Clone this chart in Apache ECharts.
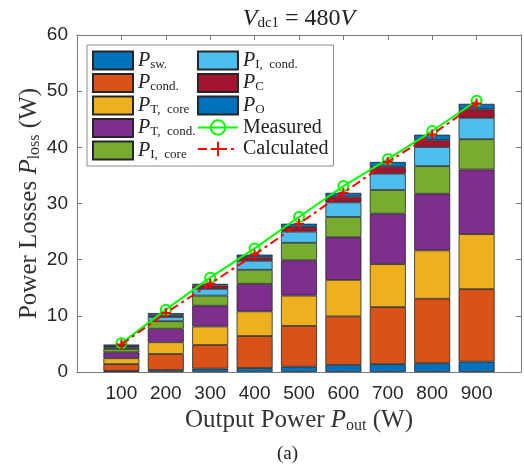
<!DOCTYPE html>
<html>
<head>
<meta charset="utf-8">
<script src="https://cdn.jsdelivr.net/npm/echarts@6/dist/echarts.min.js"></script>
<style>
  html, body { margin: 0; padding: 0; background: #fff; }
  #chart { width: 524px; height: 464px; }
</style>
</head>
<body>
<div id="chart"></div>
<script>
const outputPower = [100, 200, 300, 400, 500, 600, 700, 800, 900];
const pSw = [0.2, 0.36, 0.6, 0.7, 0.95, 1.25, 1.4, 1.55, 1.85];
const pCond = [1.2, 2.84, 4.2, 5.7, 7.25, 8.65, 10.15, 11.5, 12.9];
const pTCore = [1.05, 2.1, 3.3, 4.4, 5.4, 6.5, 7.65, 8.6, 9.8];
const pTCond = [1.05, 2.4, 3.7, 4.9, 6.3, 7.6, 9.0, 10.1, 11.5];
const pICore = [0.6, 1.35, 1.8, 2.5, 3.1, 3.6, 4.2, 4.9, 5.4];
const pICond = [0.3, 0.75, 1.2, 1.6, 2.0, 2.6, 2.9, 3.4, 3.8];
const pC = [0.2, 0.3, 0.6, 0.6, 0.8, 1.0, 1.2, 1.2, 1.5];
const pO = [0.3, 0.4, 0.3, 0.5, 0.6, 0.7, 0.9, 1.0, 1.0];
const measured = [5.1, 11.1, 16.8, 22.0, 27.6, 33.1, 37.9, 42.9, 48.3];
const calculated = [4.9, 10.5, 15.7, 20.9, 26.4, 31.9, 37.4, 42.3, 47.8];
const yTicks = [0, 10, 20, 30, 40, 50, 60];

const serif = "'Liberation Serif', 'DejaVu Serif', serif";
const sans = "'Liberation Sans', Arial, sans-serif";
const axisColor = "#7a7a7a";

// axis runs 0..1000 so the 100..900 columns sit where they do in the figure
const xCats = ["0"].concat(outputPower.map(String), ["1000"]);
const pad = (values) => ["-"].concat(values, ["-"]);

const rich = {
  it: { fontFamily: serif, fontStyle: "italic", fontSize: 20, color: "#222", lineHeight: 18 },
  sub: { fontFamily: serif, fontSize: 13, color: "#222", lineHeight: 12, padding: [8, 0, 0, 0] },
  txt: { fontFamily: serif, fontSize: 20, color: "#222", lineHeight: 18 },
};

const barDefs = [
  { name: "Psw", label: "{it|P}{sub|sw.}", color: "#0072BD", data: pSw },
  { name: "Pcond", label: "{it|P}{sub|cond.}", color: "#D95319", data: pCond },
  { name: "PTcore", label: "{it|P}{sub|T,  core}", color: "#EDB120", data: pTCore },
  { name: "PTcond", label: "{it|P}{sub|T,  cond.}", color: "#7E2F8E", data: pTCond },
  { name: "PIcore", label: "{it|P}{sub|I,  core}", color: "#77AC30", data: pICore },
  { name: "PIcond", label: "{it|P}{sub|I,  cond.}", color: "#4DBEEE", data: pICond },
  { name: "PC", label: "{it|P}{sub|C}", color: "#A2142F", data: pC },
  { name: "PO", label: "{it|P}{sub|O}", color: "#0072BD", data: pO },
];
const legendLabels = Object.fromEntries(barDefs.map((d) => [d.name, d.label]));
legendLabels.Measured = "{txt|Measured}";
legendLabels.Calculated = "{txt|Calculated}";

const series = barDefs.map((d) => ({
  name: d.name,
  type: "bar",
  stack: "loss",
  barWidth: 36,
  itemStyle: { color: d.color, borderColor: "#262626", borderWidth: 0.8 },
  data: pad(d.data),
}));

series.push({
  name: "Measured",
  type: "line",
  data: pad(measured),
  symbol: "circle",
  symbolSize: 10,
  lineStyle: { color: "#00ff00", width: 2 },
  itemStyle: { color: "rgba(255,255,255,0)", borderColor: "#00ff00", borderWidth: 2 },
  z: 5,
});
series.push({
  name: "Calculated",
  type: "line",
  data: pad(calculated),
  symbol: "path://M5,0L5,10M0,5L10,5",
  symbolSize: 10,
  lineStyle: { color: "#ff0000", width: 2, type: [9, 4, 3, 4] },
  itemStyle: { color: "#ff0000", borderColor: "#ff0000", borderWidth: 2 },
  z: 6,
});

const nameRich = {
  it: { fontFamily: serif, fontStyle: "italic", fontSize: 25, color: "#333" },
  sub: { fontFamily: serif, fontSize: 16, color: "#333", padding: [11, 0, 0, 0] },
  txt: { fontFamily: serif, fontSize: 25, color: "#333" },
};

const chart = echarts.init(document.getElementById("chart"));
chart.setOption({
  animation: false,
  title: {
    text: "{it|V}{sub|dc1}{txt| = 480}{it|V}",
    left: 294,
    top: 1,
    textAlign: "center",
    textStyle: {
      fontWeight: "normal",
      rich: {
        it: { fontFamily: serif, fontStyle: "italic", fontWeight: "normal", fontSize: 24, color: "#222" },
        sub: { fontFamily: serif, fontWeight: "normal", fontSize: 15, color: "#222", padding: [10, 0, 0, 0] },
        txt: { fontFamily: serif, fontWeight: "normal", fontSize: 24, color: "#222" },
      },
    },
  },
  legend: {
    orient: "vertical",
    left: 87,
    top: 45,
    height: 116,
    padding: 5,
    itemGap: 1.5,
    itemWidth: 40,
    itemHeight: 18,
    borderColor: "#8a8a8a",
    borderWidth: 1,
    backgroundColor: "#fff",
    data: barDefs.map((d) => ({ name: d.name, icon: "rect" })).concat(["Measured", "Calculated"]),
    formatter: (name) => legendLabels[name],
    textStyle: { rich },
  },
  grid: { left: 77, right: 2, top: 35, bottom: 92 },
  xAxis: [
    {
      type: "category",
      data: xCats,
      boundaryGap: false,
      name: "{txt|Output Power }{it|P}{sub|out}{txt| (W)}",
      nameLocation: "middle",
      nameGap: 35,
      nameTextStyle: { rich: nameRich },
      axisLine: { onZero: false, lineStyle: { color: axisColor, width: 1 } },
      axisTick: { inside: true, length: 5, lineStyle: { color: axisColor } },
      axisLabel: {
        fontFamily: sans,
        fontSize: 19,
        color: "#262626",
        margin: 12,
        interval: 0,
        formatter: (v) => (outputPower.includes(Number(v)) ? v : ""),
      },
      splitLine: { show: false },
    },
    {
      type: "category",
      data: xCats,
      boundaryGap: false,
      position: "top",
      axisLine: { show: true, onZero: false, lineStyle: { color: axisColor, width: 1 } },
      axisTick: { show: true, inside: true, length: 5, lineStyle: { color: axisColor } },
      axisLabel: { show: false },
      splitLine: { show: false },
    },
  ],
  yAxis: [
    {
      type: "value",
      min: yTicks[0],
      max: yTicks[yTicks.length - 1],
      interval: 10,
      name: "{txt|Power Losses }{it|P}{sub|loss}{txt| (W)}",
      nameLocation: "middle",
      nameGap: 34,
      nameMoveOverlap: false,
      nameTextStyle: { rich: nameRich },
      axisLine: { show: true, onZero: false, lineStyle: { color: axisColor, width: 1 } },
      axisTick: { show: true, inside: true, length: 5, lineStyle: { color: axisColor } },
      axisLabel: { fontFamily: sans, fontSize: 19, color: "#262626", margin: 9 },
      splitLine: { show: false },
    },
    {
      type: "value",
      position: "right",
      min: 0,
      max: 60,
      interval: 10,
      axisLine: { show: true, onZero: false, lineStyle: { color: axisColor, width: 1 } },
      axisTick: { show: true, inside: true, length: 5, lineStyle: { color: axisColor } },
      axisLabel: { show: false },
      splitLine: { show: false },
    },
  ],
  graphic: [
    {
      type: "text",
      left: 277,
      top: 445,
      style: { text: "(a)", font: "19px " + serif, fill: "#222" },
    },
  ],
  series,
});
</script>
</body>
</html>
